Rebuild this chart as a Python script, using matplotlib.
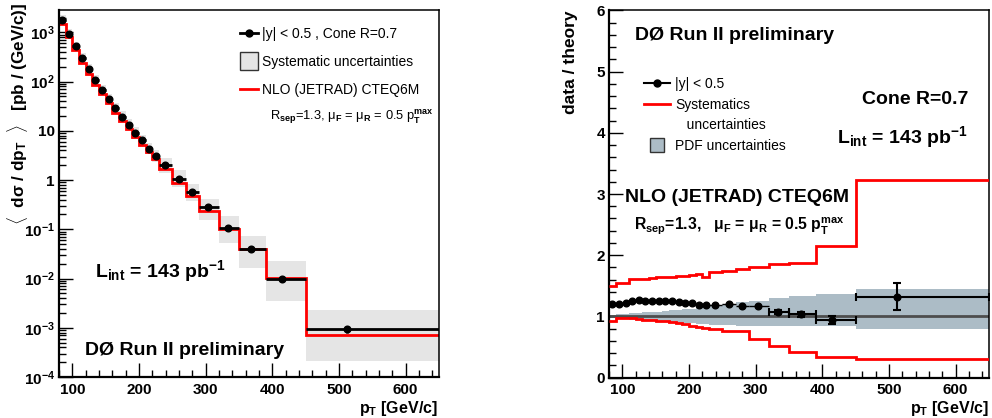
import numpy as np
import matplotlib
matplotlib.use('Agg')
import matplotlib.pyplot as plt
from matplotlib import font_manager as fm
from matplotlib.lines import Line2D
from matplotlib.ticker import MultipleLocator, LogLocator, FuncFormatter, NullFormatter

# ---------------- data ----------------
bin_edges = [80, 90, 100, 110, 120, 130, 140, 150, 160, 170, 180, 190, 200, 210,
             220, 230, 250, 270, 290, 320, 350, 390, 450, 650]
pt_points = [84, 95, 105.5, 115, 125, 134.5, 144.5, 154.5, 164.5, 174.5, 184.5,
             194.5, 204.5, 215, 225.5, 239.5, 259.5, 279.5, 304, 334, 368, 415, 512]
xsec_data = [1800, 948, 526, 304, 182, 109, 69, 44.8, 29, 19.5, 13.3, 9.0, 6.37,
             4.38, 3.11, 1.98, 1.06, 0.56, 0.28, 0.107, 0.0403, 0.0099, 9.4e-4]
stat_rel = [0.004, 0.004, 0.004, 0.004, 0.004, 0.004, 0.005, 0.005, 0.005, 0.006,
            0.006, 0.007, 0.008, 0.008, 0.009, 0.01, 0.012, 0.014, 0.015, 0.03,
            0.04, 0.068, 0.17]
sys_up_rel = [0.26, 0.23, 0.23, 0.23, 0.23, 0.24, 0.26, 0.26, 0.27, 0.29, 0.29, 0.30,
              0.32, 0.32, 0.33, 0.41, 0.48, 0.50, 0.50, 0.76, 0.84, 1.30, 1.47]
sys_dn_rel = [0.21, 0.19, 0.19, 0.19, 0.19, 0.20, 0.21, 0.21, 0.21, 0.22, 0.22, 0.23,
              0.24, 0.24, 0.25, 0.29, 0.32, 0.33, 0.46, 0.50, 0.59, 0.64, 0.77]
xsec_nlo = [1500, 790, 431, 244, 143, 86.5, 55.2, 36.0, 23.3, 15.7, 10.8, 7.38, 5.22,
            3.71, 2.64, 1.66, 0.876, 0.477, 0.238, 0.100, 0.0389, 0.0104, 7.1e-4]

ratio = [1.20, 1.20, 1.22, 1.245, 1.27, 1.26, 1.25, 1.245, 1.245, 1.245, 1.23, 1.22,
         1.22, 1.18, 1.18, 1.19, 1.21, 1.173, 1.178, 1.069, 1.037, 0.949, 1.325]
pdf_up = [1.03, 1.04, 1.045, 1.05, 1.06, 1.065, 1.07, 1.08, 1.09, 1.10, 1.11, 1.12,
          1.13, 1.14, 1.15, 1.17, 1.20, 1.23, 1.25, 1.30, 1.33, 1.37, 1.45]
pdf_dn = [0.97, 0.96, 0.955, 0.95, 0.945, 0.94, 0.93, 0.92, 0.915, 0.91, 0.90, 0.895,
          0.89, 0.88, 0.875, 0.865, 0.855, 0.85, 0.845, 0.84, 0.84, 0.84, 0.80]
syst_ratio_up = [1.50, 1.54, 1.54, 1.61, 1.62, 1.62, 1.63, 1.64, 1.64, 1.65, 1.66, 1.66,
                 1.67, 1.70, 1.64, 1.72, 1.75, 1.77, 1.80, 1.86, 1.87, 2.15, 3.23]
syst_ratio_dn = [0.93, 0.97, 0.97, 0.97, 0.96, 0.95, 0.94, 0.93, 0.92, 0.905, 0.89, 0.87,
                 0.84, 0.83, 0.81, 0.80, 0.77, 0.77, 0.63, 0.52, 0.425, 0.333, 0.30]

# ---------------- fonts ----------------
def has_font(name):
    try:
        fm.findfont(fm.FontProperties(family=name), fallback_to_default=False)
        return True
    except Exception:
        return False

SANS = 'Liberation Sans'
NARROW = 'Liberation Sans Narrow' if has_font('Liberation Sans Narrow') else SANS

plt.rcParams.update({
    'font.family': [SANS, 'DejaVu Sans'],
    'font.weight': 'bold',
    'mathtext.fontset': 'custom',
    'mathtext.rm': SANS,
    'mathtext.it': SANS + ':italic',
    'mathtext.bf': SANS + ':bold',
    'mathtext.default': 'regular',
})

W, H = 992, 418
fig = plt.figure(figsize=(W / 100, H / 100), dpi=100)

def P(x, y):
    return (x / W, 1 - y / H)

edges = np.array(bin_edges, dtype=float)
pt = np.array(pt_points)
lo_e = edges[:-1]
hi_e = edges[1:]
xerr = np.array([pt - lo_e, hi_e - pt])
data = np.array(xsec_data)
srel = np.array(stat_rel)

def style_axes(ax):
    ax.tick_params(which='both', direction='in', top=False, right=False,
                   labelsize=11, labelfontfamily=NARROW, width=1)
    ax.tick_params(which='major', length=10)
    ax.tick_params(which='minor', length=5)
    ax.tick_params(axis='x', pad=4)
    ax.tick_params(axis='y', pad=3)
    for s in ['left', 'bottom']:
        ax.spines[s].set_linewidth(1.6)
    for s in ['top', 'right']:
        ax.spines[s].set_linewidth(1.1)
    ax.xaxis.set_major_locator(MultipleLocator(100))
    ax.xaxis.set_minor_locator(MultipleLocator(20))

# ---------------- left panel ----------------
ax1 = fig.add_axes([59 / W, 41 / H, 380 / W, 367 / H])
ax1.set_yscale('log')
ax1.set_xlim(80, 650)
ax1.set_ylim(1e-4, 2.85e3)

box_lo = data * (1 - np.array(sys_dn_rel))
box_hi = data * (1 + np.array(sys_up_rel))
ax1.bar(lo_e, box_hi - box_lo, width=np.diff(edges), bottom=box_lo, align='edge',
        color='#e5e5e5', lw=0, zorder=1)
ax1.stairs(xsec_nlo, edges, baseline=None, color='#ff0000', lw=2, zorder=2)
ax1.errorbar(pt, data, xerr=xerr, yerr=data * srel, fmt='o', color='black',
             ms=4.8, elinewidth=2, capsize=0, zorder=3)

style_axes(ax1)
ax1.yaxis.set_major_locator(LogLocator(base=10, numticks=20))
ax1.yaxis.set_minor_locator(LogLocator(base=10, subs=np.arange(2, 10), numticks=20))
ax1.yaxis.set_minor_formatter(NullFormatter())

def logfmt(v, pos):
    e = int(round(np.log10(v)))
    if e == 0:
        return '1'
    if e == 1:
        return '10'
    return r'10$^{\mathbf{%d}}$' % e

ax1.yaxis.set_major_formatter(FuncFormatter(logfmt))

leg1_handles = [
    Line2D([], [], color='black', lw=2, marker='o', ms=5),
    Line2D([], [], ls='none', marker='s', ms=13.5, mfc='#e5e5e5', mec='#333333', mew=1),
    Line2D([], [], color='#ff0000', lw=2),
]
leg1_labels = ['|y| < 0.5 , Cone R=0.7', 'Systematic uncertainties', 'NLO (JETRAD) CTEQ6M']
ax1.legend(leg1_handles, leg1_labels, loc='upper left', bbox_to_anchor=P(240, 27),
           bbox_transform=fig.transFigure, frameon=False, borderpad=0, borderaxespad=0,
           handlelength=1.3, handletextpad=0.3, labelspacing=1.0,
           prop={'family': SANS, 'weight': 'normal', 'size': 10})

fig.text(*P(270, 120), r'R$_\mathrm{sep}$=1.3, μ$_\mathrm{F}$ = μ$_\mathrm{R}$ = 0.5 p$_\mathrm{T}^\mathrm{max}$',
         fontsize=9.3, fontweight='normal', va='baseline', ha='left')
fig.text(*P(95, 277), r'L$_{\mathbf{int}}$ = 143 pb$^{\mathbf{-1}}$',
         fontsize=14, va='baseline', ha='left')
fig.text(*P(85, 355), 'DØ Run II preliminary', fontsize=14, va='baseline', ha='left')

fig.text(*P(18, 3), r'$\mathbf{\langle}$  d$\mathbf{\sigma}$ / dp$_{\mathbf{T}}$  $\mathbf{\rangle}$   [pb / (GeV/c)]',
         rotation=90, ha='center', va='top', fontsize=12.3, family=[NARROW, 'DejaVu Sans'])
fig.text(*P(438, 399), r'p$_{\mathbf{T}}$ [GeV/c]', ha='right', va='top', fontsize=11.5,
         family=[NARROW, 'DejaVu Sans'])

# ---------------- right panel ----------------
ax2 = fig.add_axes([609 / W, 40.3 / H, 380 / W, 367.4 / H])
ax2.set_xlim(80, 650)
ax2.set_ylim(0, 6)

ax2.stairs(pdf_up, edges, baseline=pdf_dn, fill=True, color='#acbcc6', lw=0, zorder=1)
ax2.axhline(1, color='#4d4d4d', lw=2, zorder=2)
ax2.stairs(syst_ratio_up, edges, baseline=None, color='#ff0000', lw=2, zorder=3)
ax2.stairs(syst_ratio_dn, edges, baseline=None, color='#ff0000', lw=2, zorder=3)
r = np.array(ratio)
wide = srel > 0.02
narrow = ~wide
ax2.errorbar(pt[narrow], r[narrow], xerr=xerr[:, narrow], yerr=(r * srel)[narrow],
             fmt='o', color='black', ms=4.8, elinewidth=1.0, capsize=0, zorder=4)
ax2.errorbar(pt[wide], r[wide], xerr=xerr[:, wide], yerr=(r * srel)[wide],
             fmt='o', color='black', ms=4.8, elinewidth=1.5, capsize=3, capthick=1.5, zorder=4)

style_axes(ax2)
ax2.yaxis.set_major_locator(MultipleLocator(1))
ax2.yaxis.set_minor_locator(MultipleLocator(0.2))

leg2_handles = [
    Line2D([], [], color='black', lw=1.5, marker='o', ms=5),
    Line2D([], [], color='#ff0000', lw=2),
    Line2D([], [], color='none'),
    Line2D([], [], ls='none', marker='s', ms=10, mfc='#acbcc6', mec='#333333', mew=1),
]
leg2_labels = ['|y| < 0.5', 'Systematics', '   uncertainties', 'PDF uncertainties']
ax2.legend(leg2_handles, leg2_labels, loc='upper left', bbox_to_anchor=P(644, 77),
           bbox_transform=fig.transFigure, frameon=False, borderpad=0, borderaxespad=0,
           handlelength=1.85, handletextpad=0.4, labelspacing=0.48,
           prop={'family': SANS, 'weight': 'normal', 'size': 10})

fig.text(*P(635, 40), 'DØ Run II preliminary', fontsize=14, va='baseline', ha='left')
fig.text(*P(968, 104), 'Cone R=0.7', fontsize=14, va='baseline', ha='right')
fig.text(*P(968, 143), r'L$_{\mathbf{int}}$ = 143 pb$^{\mathbf{-1}}$', fontsize=14,
         va='baseline', ha='right')
fig.text(*P(625, 202), 'NLO (JETRAD) CTEQ6M', fontsize=14, va='baseline', ha='left')
fig.text(*P(634, 230), r'R$_{\mathbf{sep}}$=1.3,   μ$_{\mathbf{F}}$ = μ$_{\mathbf{R}}$ = 0.5 p$_{\mathbf{T}}^{\mathbf{max}}$',
         fontsize=11.3, va='baseline', ha='left')

fig.text(*P(570, 10), 'data / theory', rotation=90, ha='center', va='top', fontsize=12.5,
         family=[NARROW, 'DejaVu Sans'])
fig.text(*P(989, 399), r'p$_{\mathbf{T}}$ [GeV/c]', ha='right', va='top', fontsize=11.5,
         family=[NARROW, 'DejaVu Sans'])

fig.savefig('out.png', dpi=100)
